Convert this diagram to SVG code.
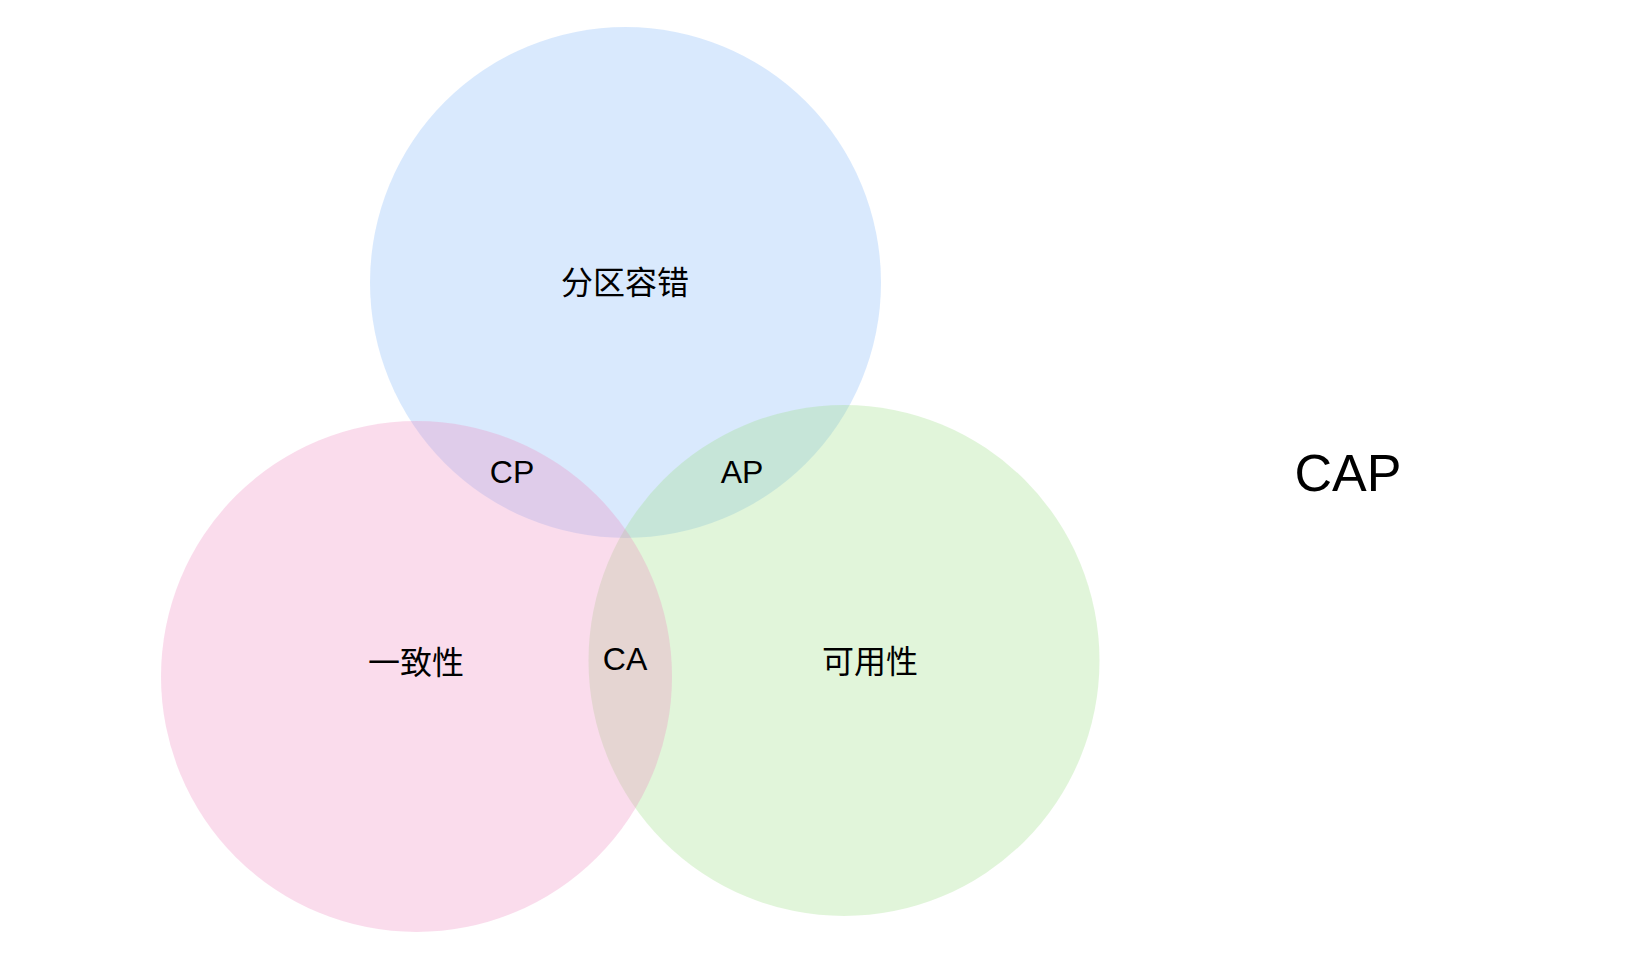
<svg xmlns="http://www.w3.org/2000/svg" width="1650" height="954" viewBox="0 0 1650 954">
<style>
.c{fill-opacity:0.3;stroke:none}
.t{font-family:"Liberation Sans","Noto Sans CJK SC",sans-serif;font-size:32px;fill:#000;text-anchor:middle}
</style>
<rect width="1650" height="954" fill="#fff"/>
<g id="partition"><circle class="c" cx="625.5" cy="282.5" r="255.5" fill="#80b6f8"/></g>
<g id="availability"><circle class="c" cx="844" cy="660.5" r="255.5" fill="#9bde84"/></g>
<g id="consistency"><circle class="c" cx="416.5" cy="676.5" r="255.5" fill="#ee8abf"/></g>
<g id="connectors"></g>
<g id="labels">
<text class="t" x="625" y="294">分区容错</text>
<text class="t" x="416" y="674">一致性</text>
<text class="t" x="870" y="673">可用性</text>
<text class="t" x="512" y="483">CP</text>
<text class="t" x="742" y="483">AP</text>
<text class="t" x="625" y="670">CA</text>
<text class="t" x="1348" y="491" style="font-size:52px">CAP</text>
</g>
</svg>
